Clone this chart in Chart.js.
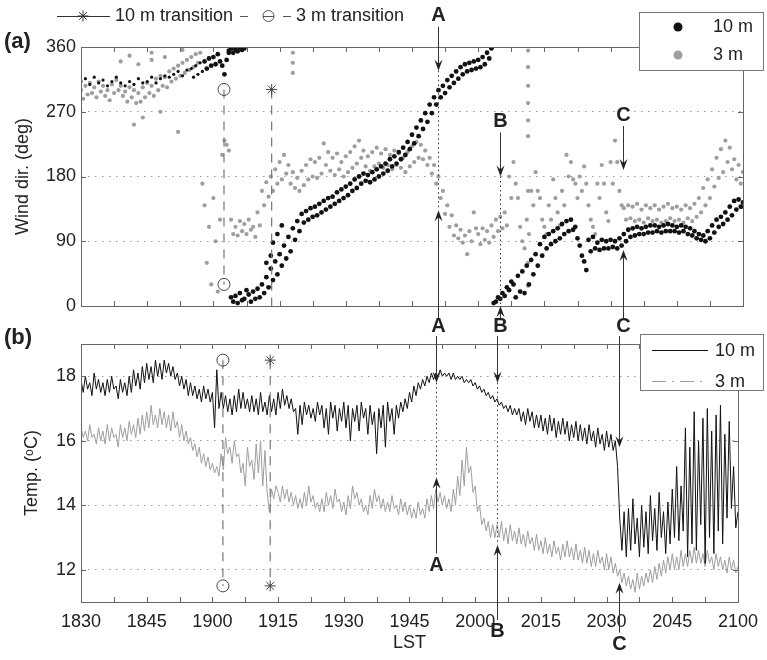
<!DOCTYPE html>
<html>
<head>
<meta charset="utf-8">
<script src="https://cdn.jsdelivr.net/npm/chart.js@4.4.1/dist/chart.umd.min.js"></script>
<style>
  body { margin: 0; background: #fff; }
  #wrap { position: relative; width: 767px; height: 660px; }
  #wrap canvas { position: absolute; left: 0; top: 0; }
</style>
</head>
<body>
<div id="wrap">
  <canvas id="windChart" width="767" height="660"></canvas>
  <canvas id="tempChart" width="767" height="660"></canvas>
</div>
<script>
// minutes after 18:30 LST, one sample every half minute
const SAMPLE_STEP = 0.5;

const xTickMinutes = [0, 7.5, 15, 22.5, 30, 37.5, 45, 52.5, 60, 67.5, 75, 82.5, 90, 97.5, 105, 112.5, 120, 127.5, 135, 142.5, 150];
const xLabelMinutes = [0, 15, 30, 45, 60, 75, 90, 105, 120, 135, 150];
const xLabels = ['1830', '1845', '1900', '1915', '1930', '1945', '2000', '2015', '2030', '2045', '2100'];
const tempTicks = [12, 14, 16, 18];

// wind direction (deg), 10 m and 3 m
const dir10 = [
  312,null,316,null,308,null,318,null,310,null,
  314,null,306,null,312,null,318,null,310,null,
  306,null,312,null,308,null,316,null,310,null,
  312,null,318,null,310,null,316,null,320,null,
  318,null,322,null,326,null,320,null,328,null,
  330,318,334,322,338,326,340,330,344,334,
  346,336,350,340,334,322,342,352,12,6,
  14,4,18,8,10,22,16,6,20,10,
  24,12,30,18,40,26,52,36,62,44,
  72,56,84,66,96,76,108,92,118,104,
  128,116,132,120,136,124,138,126,142,130,
  146,134,150,138,152,142,158,146,162,150,
  166,154,170,160,176,164,180,170,184,174,
  182,172,186,176,190,180,194,184,198,188,
  204,194,208,198,214,204,220,210,228,218,
  238,226,248,236,258,246,268,256,280,268,
  290,280,300,290,306,296,314,304,320,310,
  326,316,332,322,336,326,338,328,340,330,
  342,332,346,336,352,344,358,4,6,12,
  10,18,14,26,22,34,30,12,42,20,
  48,18,56,30,64,44,72,56,86,70,
  96,80,100,86,104,90,108,94,114,100,
  118,104,120,106,110,94,84,70,62,50,
  92,76,96,80,88,78,92,80,90,80,
  92,82,90,80,94,84,100,90,106,96,
  108,98,110,100,108,100,110,102,112,102,
  112,104,110,102,112,104,114,104,112,104,
  110,102,112,104,110,100,108,98,104,94,
  100,92,98,90,104,94,112,102,120,110,
  124,114,130,120,138,126,146,134,148,138,
  144
];
const dir3 = [
  300,288,306,294,310,296,304,290,312,298,
  306,292,300,286,308,296,314,300,306,292,
  298,284,304,290,300,282,296,284,304,290,
  310,296,306,292,316,300,320,306,318,304,
  326,312,330,316,334,320,338,324,342,328,
  346,332,350,338,352,170,140,60,110,30,
  150,90,20,120,210,230,224,216,120,100,
  110,98,118,104,114,100,120,106,110,96,
  130,112,160,140,172,152,180,160,190,170,
  200,176,210,184,196,170,186,164,178,160,
  188,168,196,176,204,180,200,178,206,184,
  226,196,214,188,206,182,212,190,200,180,
  208,186,214,192,222,198,230,206,216,194,
  208,188,214,194,220,198,212,192,218,196,
  210,190,216,196,212,192,206,186,214,194,
  222,200,228,206,224,204,216,196,206,184,
  196,170,180,150,160,128,140,110,126,98,
  112,94,106,88,98,72,104,90,130,108,
  100,86,108,92,104,88,112,96,120,104,
  124,108,130,112,180,150,200,170,150,110,
  90,80,120,100,160,140,186,160,150,120,
  110,100,140,120,176,150,130,112,160,140,
  210,180,200,176,170,150,180,160,194,170,
  140,120,110,100,170,150,196,170,130,118,
  200,170,230,200,160,140,136,120,140,122,
  138,118,142,120,134,116,140,122,136,118,
  140,120,134,116,138,118,142,122,136,118,
  138,120,134,116,140,122,136,118,142,124,
  150,130,164,140,176,150,190,166,206,178,
  218,186,230,200,220,190,204,176,196,170,
  186
];
// readings off the main clouds: [minute, deg]
const dir10Extra = [[33.5,355],[34,358],[34.5,352],[35,357],[35.5,354],[36,359],[36.5,356],[37,358],
  [42,60],[43,70],[43.5,88],[44.5,100],[45.5,112]];
const dir3Extra = [[101.3,355],[101.3,332],[101.3,306],[101.3,282],[101.3,258],[101.3,236],[101.3,160],
  [101.3,60],[101.3,28],[48,352],[48,338],[48,324],[16,342],[16,352],[19,346],[23,356],[12,252],
  [14,262],[22,242],[18,270],[9,340],[11,348],[13,336]];

// air temperature (deg C), 10 m and 3 m
const temp10 = [
  17.9,17.5,18.0,17.6,17.8,17.4,18.1,17.6,17.9,17.5,
  17.8,17.4,17.9,17.5,18.0,17.6,17.7,17.3,17.9,17.5,
  17.8,17.4,18.0,17.5,18.2,17.7,18.1,17.6,18.3,17.8,
  18.4,17.9,18.3,17.8,18.5,18.0,18.4,17.9,18.5,18.1,
  18.4,18.0,18.3,17.9,18.1,17.7,18.0,17.6,17.9,17.4,
  17.8,17.4,17.7,17.3,17.6,17.2,17.7,17.3,17.6,17.2,
  17.5,16.4,18.2,17.0,17.5,17.0,17.4,16.9,17.3,16.8,
  17.4,16.9,17.6,17.0,17.5,17.0,17.3,16.9,17.4,16.9,
  17.3,16.8,17.5,16.9,17.2,16.8,17.4,16.9,17.3,16.8,
  17.5,17.0,17.6,17.1,17.4,17.0,17.3,16.9,17.0,16.2,
  17.1,16.5,17.2,16.8,17.1,16.7,17.0,16.6,17.2,16.8,
  17.1,16.4,17.0,16.2,17.2,16.7,17.1,16.3,17.0,16.6,
  17.2,16.4,17.1,16.0,17.0,16.6,17.1,16.3,17.2,16.7,
  17.0,16.2,17.1,16.5,16.9,15.6,17.0,16.4,17.1,15.8,
  17.2,16.6,17.0,16.2,17.1,16.7,17.2,16.9,17.3,17.0,
  17.5,17.2,17.7,17.4,17.8,17.6,17.9,17.7,18.0,17.8,
  18.1,17.9,18.1,18.0,18.2,18.0,18.1,18.0,18.1,17.9,
  18.1,17.9,18.0,17.9,18.0,17.8,17.9,17.8,17.9,17.7,
  17.8,17.6,17.7,17.5,17.6,17.4,17.5,17.3,17.4,17.2,
  17.3,17.1,17.2,17.0,17.1,16.9,17.1,16.8,17.0,16.8,
  17.0,16.6,16.9,16.5,17.0,16.6,16.9,16.4,16.8,16.4,
  16.8,16.3,16.7,16.2,16.8,16.3,16.7,16.1,16.6,16.2,
  16.7,16.2,16.6,16.0,16.5,16.1,16.6,16.0,16.5,16.0,
  16.4,15.9,16.5,16.0,16.3,15.8,16.4,15.9,16.2,15.7,
  16.3,15.8,16.2,15.7,16.0,15.2,13.6,12.6,13.8,12.4,
  13.9,12.6,14.2,12.8,13.6,12.4,14.0,12.7,13.8,12.5,
  14.3,12.9,13.9,12.6,14.4,13.0,13.8,12.5,14.1,12.8,
  14.5,13.0,15.2,12.9,14.6,13.2,16.4,12.4,15.8,12.8,
  16.9,12.6,16.0,13.4,16.7,12.2,17.0,13.0,16.3,12.5,
  16.8,13.2,17.1,12.8,16.2,13.6,16.6,13.9,15.2,13.3,
  13.8
];
const temp3 = [
  16.4,16.1,16.3,16.0,16.5,16.1,16.2,15.9,16.4,16.0,
  16.3,15.9,16.5,16.0,16.4,16.1,16.2,15.8,16.5,16.1,
  16.4,16.0,16.6,16.2,16.5,16.1,16.7,16.2,16.8,16.3,
  16.9,16.4,17.1,16.5,16.8,16.4,17.0,16.5,16.9,16.4,
  16.8,16.3,16.9,16.4,16.6,16.1,16.5,16.0,16.3,15.9,
  16.1,15.7,15.9,15.5,15.8,15.3,15.6,15.2,15.5,15.1,
  15.3,15.0,15.2,14.9,15.6,15.1,16.1,15.6,15.8,15.3,
  16.0,15.5,15.6,15.0,15.3,14.6,15.8,15.2,15.4,14.8,
  15.9,15.0,16.0,14.6,15.7,14.4,13.8,14.5,14.2,14.6,
  14.4,14.1,14.6,14.2,14.5,14.1,14.4,14.0,14.3,13.9,
  14.2,13.9,14.4,14.0,14.6,14.1,14.3,13.9,14.1,13.8,
  14.2,13.8,14.4,14.0,14.3,13.9,14.5,14.1,14.2,13.8,
  14.1,13.7,14.3,13.9,14.6,14.2,14.4,14.0,14.2,13.8,
  14.0,13.7,14.3,13.9,14.5,14.1,14.3,13.9,14.2,13.8,
  14.1,13.8,14.3,13.9,14.0,13.7,14.2,13.8,14.1,13.7,
  14.0,13.6,13.9,13.6,14.1,13.7,13.9,13.6,14.2,13.8,
  14.3,13.9,14.5,14.1,14.4,14.0,14.3,13.9,14.2,13.8,
  14.5,14.0,14.9,14.3,15.4,14.6,15.8,15.0,15.2,14.4,
  14.6,13.8,14.0,13.4,13.6,13.2,13.5,13.0,13.4,13.0,
  13.4,13.0,13.5,12.9,13.3,12.8,13.4,12.9,13.2,12.8,
  13.3,12.8,13.1,12.7,13.2,12.8,13.0,12.6,13.1,12.6,
  12.9,12.5,13.0,12.5,12.8,12.4,12.9,12.5,12.7,12.3,
  12.8,12.4,12.9,12.4,12.7,12.3,12.8,12.3,12.6,12.2,
  12.7,12.2,12.6,12.1,12.5,12.1,12.6,12.2,12.4,12.0,
  12.5,12.0,12.4,11.9,12.2,11.8,12.0,11.6,11.9,11.5,
  11.8,11.4,11.7,11.3,11.9,11.4,11.8,11.5,11.9,11.6,
  12.0,11.6,12.1,11.7,12.2,11.8,12.3,11.9,12.4,12.0,
  12.5,12.0,12.4,12.0,12.6,12.1,12.5,12.1,12.6,12.2,
  12.7,12.2,12.6,12.2,12.5,12.1,12.6,12.2,12.4,12.0,
  12.5,12.1,12.4,12.0,12.3,11.9,12.4,12.0,12.3,11.9,
  12.1
];

// flow transitions at each height
const transMinute3 = 32.4;
const transMinute10 = 43.2;
const transWind3 = [301, 30];
const transWind10 = [301, 0];
const transTemp = [18.5, 11.5];

// marked events and where their arrows point
const eventNames = ['A', 'B', 'C'];
const eventMinutes = [81, 95, 122.8];
const windTopTips = [327, 180, 189];
const windBottomTips = [133, 0, 78];
const tempTopTips = [17.8, 17.8, 15.8];
const tempBottomTips = [14.86, 12.77, 11.6];

const FONT = '"Liberation Sans", Arial, Helvetica, sans-serif';
Chart.defaults.font.family = FONT;
Chart.defaults.color = '#222';

const BLACK = '#111';
const GREY = '#9e9e9e';

function toPoints(values) {
  return values.map((v, i) => ({ x: i * SAMPLE_STEP, y: v })).filter(p => p.y !== null);
}
function pairs(list) {
  return list.map(([x, y]) => ({ x, y }));
}

function arrow(ctx, x, yFrom, yTo) {
  const d = yTo > yFrom ? 1 : -1;
  ctx.beginPath();
  ctx.moveTo(x, yFrom);
  ctx.lineTo(x, yTo - d * 6);
  ctx.stroke();
  ctx.beginPath();
  ctx.moveTo(x, yTo);
  ctx.lineTo(x - 4, yTo - d * 11);
  ctx.lineTo(x, yTo - d * 7);
  ctx.lineTo(x + 4, yTo - d * 11);
  ctx.closePath();
  ctx.fill();
}
function dotted(ctx, x, y1, y2) {
  ctx.save();
  ctx.setLineDash([1.5, 3]);
  ctx.beginPath();
  ctx.moveTo(x, y1);
  ctx.lineTo(x, y2);
  ctx.stroke();
  ctx.restore();
}
function tag(ctx, text, x, y) {
  ctx.font = 'bold 20px ' + FONT;
  ctx.textAlign = 'center';
  ctx.textBaseline = 'middle';
  ctx.fillStyle = '#222';
  ctx.fillText(text, x, y);
}

// box round the plot with inward tick marks on all four sides
function drawFrame(chart) {
  const { ctx, chartArea: a, scales: { x, y } } = chart;
  ctx.save();
  ctx.strokeStyle = '#666';
  ctx.lineWidth = 1;
  ctx.strokeRect(a.left + 0.5, a.top + 0.5, a.width, a.height);
  ctx.beginPath();
  xTickMinutes.forEach(v => {
    const px = Math.round(x.getPixelForValue(v)) + 0.5;
    ctx.moveTo(px, a.bottom); ctx.lineTo(px, a.bottom - 5);
    ctx.moveTo(px, a.top); ctx.lineTo(px, a.top + 5);
  });
  y.ticks.forEach(t => {
    const py = Math.round(y.getPixelForValue(t.value)) + 0.5;
    ctx.moveTo(a.left, py); ctx.lineTo(a.left + 5, py);
    ctx.moveTo(a.right, py); ctx.lineTo(a.right - 5, py);
  });
  ctx.stroke();
  ctx.restore();
}

function legendBox(ctx, left, top, right, bottom) {
  ctx.fillStyle = '#fff';
  ctx.fillRect(left, top, right - left, bottom - top);
  ctx.strokeStyle = '#777';
  ctx.lineWidth = 1;
  ctx.strokeRect(left + 0.5, top + 0.5, right - left, bottom - top);
  ctx.font = '18px ' + FONT;
  ctx.textAlign = 'left';
  ctx.textBaseline = 'middle';
}

const windDecor = {
  id: 'windDecor',
  afterDatasetsDraw(chart) {
    const { ctx, chartArea: a, scales: { x, y } } = chart;
    drawFrame(chart);
    ctx.save();

    // legend for the two heights
    legendBox(ctx, 639, 12, 763, 70);
    const sets = chart.data.datasets;
    [[sets[0], 27], [sets[1], 55]].forEach(([ds, ly]) => {
      ctx.fillStyle = ds.backgroundColor;
      ctx.beginPath(); ctx.arc(678, ly, 4.5, 0, Math.PI * 2); ctx.fill();
      ctx.fillStyle = '#222';
      ctx.fillText(ds.label, 713, ly);
    });

    // legend for the transition markers
    const ty = 16;
    ctx.strokeStyle = '#333';
    ctx.lineWidth = 1;
    ctx.beginPath(); ctx.moveTo(57, ty + 0.5); ctx.lineTo(110, ty + 0.5); ctx.stroke();
    Chart.helpers.drawPoint(ctx, { pointStyle: 'star', radius: 5.5, borderWidth: 1 }, 83, ty);
    ctx.fillStyle = '#222';
    ctx.fillText(sets[3].label, 115, ty);
    ctx.strokeStyle = '#555';
    ctx.beginPath();
    ctx.moveTo(240, ty + 0.5); ctx.lineTo(248, ty + 0.5);
    ctx.moveTo(263, ty + 0.5); ctx.lineTo(274, ty + 0.5);
    ctx.moveTo(283, ty + 0.5); ctx.lineTo(291, ty + 0.5);
    ctx.stroke();
    ctx.beginPath(); ctx.arc(268.5, ty, 5.5, 0, Math.PI * 2); ctx.stroke();
    ctx.fillText(sets[2].label, 296, ty);

    ctx.font = 'bold 22px ' + FONT;
    ctx.fillText('(a)', 4, 42);

    // event arrows
    ctx.strokeStyle = '#333';
    eventMinutes.forEach((t, i) => {
      const px = Math.round(x.getPixelForValue(t)) + 0.5;
      const topTip = y.getPixelForValue(windTopTips[i]);
      const labelY = topTip - 55;
      tag(ctx, eventNames[i], px, labelY);
      arrow(ctx, px, labelY + 11, topTip);
      const botTip = y.getPixelForValue(windBottomTips[i]);
      arrow(ctx, px, a.bottom + 12, botTip);
      tag(ctx, eventNames[i], px, a.bottom + 20);
      if (i < 2) dotted(ctx, px, topTip, botTip);
    });
    ctx.restore();
  }
};

const tempDecor = {
  id: 'tempDecor',
  afterDatasetsDraw(chart) {
    const { ctx, chartArea: a, scales: { x, y } } = chart;
    drawFrame(chart);
    ctx.save();

    legendBox(ctx, 640, 334, 763, 390);
    const sets = chart.data.datasets;
    ctx.lineWidth = 1;
    ctx.strokeStyle = BLACK;
    ctx.beginPath(); ctx.moveTo(652, 350.5); ctx.lineTo(708, 350.5); ctx.stroke();
    ctx.strokeStyle = GREY;
    ctx.setLineDash([14, 6, 2, 6]);
    ctx.beginPath(); ctx.moveTo(652, 381.5); ctx.lineTo(708, 381.5); ctx.stroke();
    ctx.setLineDash([]);
    ctx.fillStyle = '#222';
    ctx.fillText(sets[0].label, 715, 351);
    ctx.fillText(sets[1].label, 715, 382);

    ctx.font = 'bold 22px ' + FONT;
    ctx.fillText('(b)', 4, 338);

    ctx.strokeStyle = '#333';
    const labelDrop = [88, 87, 62];
    eventMinutes.forEach((t, i) => {
      const px = Math.round(x.getPixelForValue(t)) + 0.5;
      const topTip = y.getPixelForValue(tempTopTips[i]);
      ctx.fillStyle = '#222';
      arrow(ctx, px, a.top - 8, topTip);
      const botTip = y.getPixelForValue(tempBottomTips[i]);
      const labelY = botTip + labelDrop[i];
      arrow(ctx, px, labelY - 12, botTip);
      tag(ctx, eventNames[i], px, labelY);
      if (i < 2) dotted(ctx, px, topTip, botTip);
    });
    ctx.restore();
  }
};

function xScale(show) {
  return {
    type: 'linear', min: 0, max: 150, display: show,
    afterBuildTicks: s => { s.ticks = xTickMinutes.map(v => ({ value: v })); },
    afterFit: s => { s.height = show ? 58 : 0; },
    grid: { display: false, drawTicks: false },
    border: { display: false },
    ticks: {
      autoSkip: false, maxRotation: 0, padding: 9,
      font: { size: 18 }, color: '#222',
      callback: v => { const k = xLabelMinutes.indexOf(v); return k < 0 ? '' : xLabels[k]; }
    },
    title: { display: show, text: 'LST', font: { size: 18 }, color: '#222', padding: 6 }
  };
}

function yGrid() {
  return { color: '#9a9a9a', lineWidth: 1, drawTicks: false };
}

function cloud(label, data, color, radius, order) {
  return { label, data, backgroundColor: color, pointRadius: radius, pointBorderWidth: 0, order };
}

function transition(label, minute, values, style, radius) {
  return { label, showLine: true, data: values.map(v => ({ x: minute, y: v })),
    borderColor: '#777', borderWidth: 1.2, borderDash: [9, 7],
    pointStyle: style, pointRadius: radius, pointBorderColor: '#444', pointBorderWidth: 1,
    pointBackgroundColor: 'rgba(255,255,255,0)', order: 1 };
}

new Chart(document.getElementById('windChart'), {
  type: 'scatter',
  data: {
    datasets: [
      // the 10 m readings are sparse under the 3 m cloud before the first transition
      cloud('10 m', toPoints(dir10).concat(pairs(dir10Extra)), BLACK,
        c => (c.raw && c.raw.x < 28 ? 1.6 : 2.4), 2),
      cloud('3 m', toPoints(dir3).concat(pairs(dir3Extra)), GREY, 2.1, 3),
      transition('3 m transition', transMinute3, transWind3, 'circle', 6),
      transition('10 m transition', transMinute10, transWind10, 'star', [5.5, 0])
    ]
  },
  options: {
    responsive: false, animation: false, events: [],
    layout: { padding: { top: 47, right: 24, bottom: 354, left: 0 } },
    plugins: { legend: { display: false }, tooltip: { enabled: false } },
    scales: {
      x: xScale(false),
      y: {
        min: 0, max: 360,
        ticks: { stepSize: 90, font: { size: 18 }, color: '#222', padding: 5 },
        afterFit: s => { s.width = 81; },
        grid: yGrid(),
        border: { display: false, dash: [1.5, 5.5] },
        title: { display: true, text: 'Wind dir. (deg)', font: { size: 18 }, color: '#222', padding: 12 }
      }
    }
  },
  plugins: [windDecor]
});

new Chart(document.getElementById('tempChart'), {
  type: 'scatter',
  data: {
    datasets: [
      { label: '10 m', showLine: true, data: toPoints(temp10), borderColor: BLACK, borderWidth: 1,
        pointRadius: 0, order: 2 },
      { label: '3 m', showLine: true, data: toPoints(temp3), borderColor: GREY, borderWidth: 1,
        pointRadius: 0, order: 3 },
      transition('3 m transition', transMinute3, transTemp, 'circle', 6),
      transition('10 m transition', transMinute10, transTemp, 'star', 5.5)
    ]
  },
  options: {
    responsive: false, animation: false, events: [],
    layout: { padding: { top: 344, right: 24, bottom: 0, left: 0 } },
    plugins: { legend: { display: false }, tooltip: { enabled: false } },
    scales: {
      x: xScale(true),
      y: {
        min: 11, max: 19,
        afterBuildTicks: s => { s.ticks = tempTicks.map(v => ({ value: v })); },
        ticks: { font: { size: 18 }, color: '#222', padding: 5 },
        afterFit: s => { s.width = 81; },
        grid: yGrid(),
        border: { display: false, dash: [1.5, 5.5] },
        title: { display: true, text: 'Temp. (ᵒC)', font: { size: 18 }, color: '#222', padding: 21 }
      }
    }
  },
  plugins: [tempDecor]
});
</script>
</body>
</html>
